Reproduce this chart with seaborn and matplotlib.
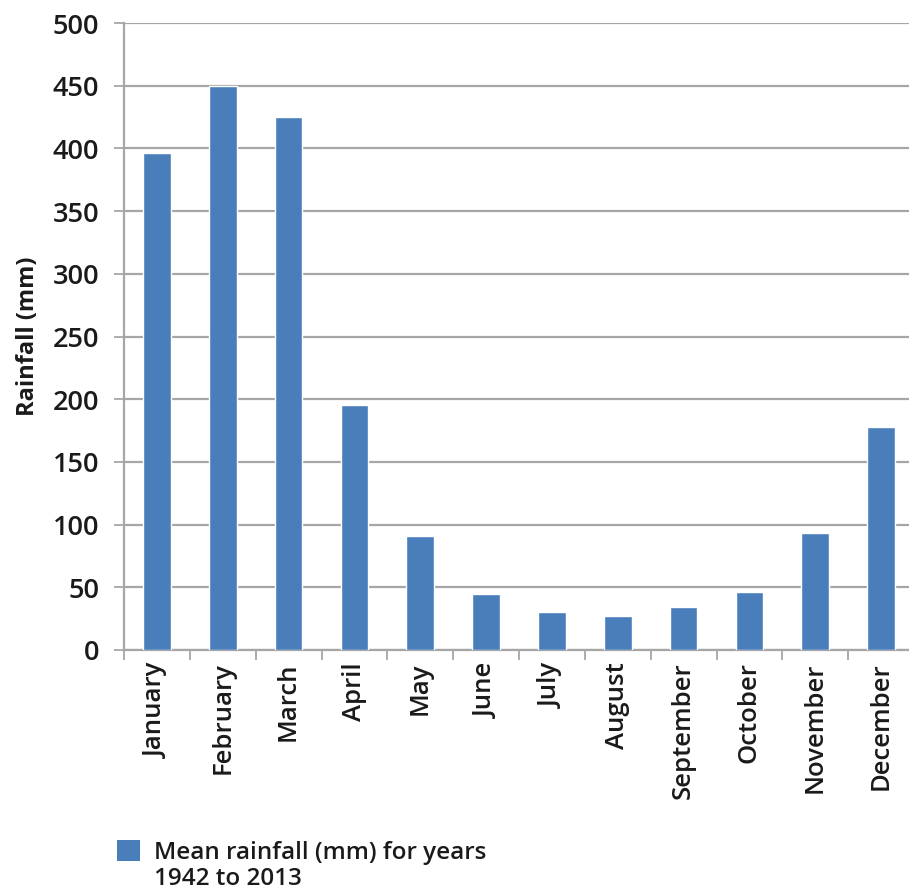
import matplotlib
matplotlib.use("Agg")
import matplotlib.pyplot as plt
import seaborn as sns
import pandas as pd
from matplotlib.patches import Patch, Rectangle
from matplotlib.legend_handler import HandlerPatch

months = ["January", "February", "March", "April", "May", "June", "July",
          "August", "September", "October", "November", "December"]
rainfall = [396, 450, 425, 195, 91, 45, 30, 27, 34, 46, 93, 178]
y_ticks = [0, 50, 100, 150, 200, 250, 300, 350, 400, 450, 500]
series_label = "Mean rainfall (mm) for years\n1942 to 2013"

sns.set_theme(style="white")
plt.rcParams["font.family"] = ["Open Sans", "DejaVu Sans"]

bar_color = "#4a7ebb"
grid_color = "#a6a6a6"
text_color = "#1a1a1a"
legend_size = 17.5
legend_linespacing = 1.1

df = pd.DataFrame({"month": months, "rainfall": rainfall})

fig = plt.figure(figsize=(9.09, 8.92), dpi=100)
ax = fig.add_axes([124 / 909, 1 - 650 / 892, 790 / 909, 627 / 892])

sns.barplot(data=df, x="month", y="rainfall", color=bar_color, width=0.42,
            saturation=1, ax=ax, zorder=3)

ax.set_ylim(0, 500)
ax.set_xlim(-0.5, len(months) - 0.5)
ax.set_yticks(y_ticks)
ax.set_yticklabels([str(v) for v in y_ticks], fontsize=19.5, color=text_color,
                   fontweight=600)
ax.yaxis.grid(True, color=grid_color, linewidth=1.6, zorder=0)
ax.set_axisbelow(True)

# category labels centred on bars, tick marks at category boundaries
ax.set_xticks(range(len(months)))
ax.set_xticklabels(months, rotation=90, fontsize=18.5, color=text_color,
                   fontweight=600)
ax.tick_params(axis="x", length=0, pad=9)
ax.set_xticks([i - 0.5 for i in range(len(months) + 1)], minor=True)
ax.tick_params(axis="x", which="minor", length=7, width=1.3, color=grid_color,
               direction="out", bottom=True)
ax.tick_params(axis="y", length=7, width=1.3, color=grid_color, left=True,
               direction="out", pad=11)

ax.set_xlabel("")
ax.set_ylabel("Rainfall (mm)", fontsize=17, fontweight="bold", color=text_color)
ax.yaxis.set_label_coords(-84 / 790, 0.5)

for side in ["top", "right"]:
    ax.spines[side].set_visible(False)
for side in ["left", "bottom"]:
    ax.spines[side].set_color(grid_color)
    ax.spines[side].set_linewidth(1.6)


def first_line_patch(legend, orig_handle, xdescent, ydescent, width, height,
                     fontsize):
    # lift the swatch so it sits beside the first line of a two-line label
    lift = fontsize * 0.66
    return Rectangle((-xdescent, -ydescent + lift), width, height)


handle = Patch(facecolor=bar_color, edgecolor="none")
leg = fig.legend([handle], [series_label], loc="upper left",
                 bbox_to_anchor=(110 / 909, 1 - 834 / 892), frameon=False,
                 fontsize=legend_size, handlelength=0.95, handleheight=0.95,
                 handletextpad=0.55, borderaxespad=0, borderpad=0.3,
                 alignment="left",
                 handler_map={Patch: HandlerPatch(patch_func=first_line_patch)})
for t in leg.get_texts():
    t.set_color(text_color)
    t.set_fontweight(600)
    t.set_linespacing(legend_linespacing)

fig.savefig("out.png", dpi=100)
